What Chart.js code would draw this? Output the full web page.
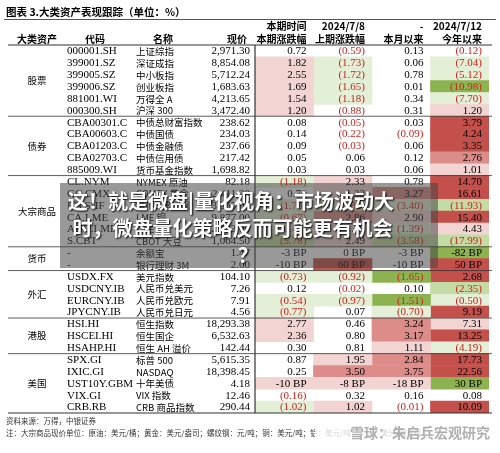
<!DOCTYPE html>
<html><head><meta charset="utf-8">
<script src="https://cdn.jsdelivr.net/npm/chart.js@4/dist/chart.umd.min.js"></script>
<style>
html,body{margin:0;padding:0;background:#fff;}
#wrap{position:relative;width:500px;height:453px;}
#banner{position:absolute;left:60px;top:183px;width:378px;height:85px;background:rgba(70,70,70,0.55);color:#fff;font:bold 20px "Noto Sans CJK SC";text-shadow:1px 1px 2px #000;box-sizing:border-box;padding:4px 0 0 8px;line-height:27px;}
</style></head><body>
<div id="wrap"><canvas id="c" width="500" height="453"></canvas>
<div id="banner">这！就是微盘|量化视角：市场波动大<br>&nbsp;时，微盘量化策略反而可能更有机会<br><span style="margin-left:170px">？</span></div>
</div>
<script>
const groups = [["股票",6],["债券",5],["大宗商品",6],["货币",2],["外汇",4],["港股",3],["美国",5]];
const codes = ["000001.SH","399001.SZ","399005.SZ","399006.SZ","881001.WI","000300.SH",
"CBA00301.C","CBA00603.C","CBA01203.C","CBA02703.C","885009.WI",
"CL.NYM","GC.CMX","RB.SHF","CA.LME","AHD.LME","S.CBT",
"-","-",
"USDX.FX","USDCNY.IB","EURCNY.IB","JPYCNY.IB",
"HSI.HI","HSCEI.HI","HSAHP.HI",
"SPX.GI","IXIC.GI","UST10Y.GBM","VIX.GI","CRB.RB"];
const names = ["上证综指","深证成指","中小板指","创业板指","万得全 A","沪深 300",
"中债总财富指数","中债国债","中债金融债","中债信用债","货币基金指数",
"NYMEX 原油","COMEX 黄金","SHFE 螺纹钢","LME 铜","LME 铝","CBOT 大豆",
"余额宝","银行理财 3M",
"美元指数","人民币兑美元","人民币兑欧元","人民币兑日元",
"恒生指数","恒生国企","恒生 AH 溢价",
"标普 500","NASDAQ","十年美债","VIX 指数","CRB 商品指数"];
const prices = ["2,971.30","8,854.08","5,712.24","1,683.63","4,213.65","3,472.40",
"238.62","234.03","237.66","217.42","1,698.82",
"82.18","2,411.20","3,565.00","9,877.00","2,493.00","1,064.50",
"1.47","2.00",
"104.10","7.26","7.91","4.56",
"18,293.38","6,532.63","142.44",
"5,615.35","18,398.45","4.18","12.46","290.44"];
const colThis = ["0.72","1.82","2.55","1.69","1.54","1.20","0.08","0.14","0.09","0.05","0.03",
"(1.18)","0.76","(1.76)","(0.67)","(0.42)","(5.78)","-3 BP","-10 BP",
"(0.73)","0.12","(0.54)","(0.77)","2.77","2.36","0.30","0.87","0.25","-10 BP","(0.16)","(1.02)"];
const colPrev = ["(0.59)","(1.73)","(1.72)","(1.65)","(1.18)","(0.88)","(0.05)","(0.22)","(0.03)","0.06","0.03",
"2.33","1.22","(0.85)","2.86","1.49","2.49","0 BP","60 BP",
"(0.92)","(0.02)","(0.97)","0.07","0.46","0.80","0.81","1.95","3.50","-8 BP","0.32","1.02"];
const colMonth = ["0.13","0.06","0.78","0.01","0.34","0.31","0.03","(0.09)","0.06","0.12","0.06",
"0.78","3.27","(3.40)","2.90","(1.39)","(3.58)","-3 BP","-10 BP",
"(1.65)","0.10","(1.51)","(0.70)","3.24","3.17","1.11","2.84","3.75","-18 BP","0.16","(0.01)"];
const colYear = ["(0.12)","(7.04)","(5.12)","(10.98)","(7.70)","1.20","3.79","4.24","3.35","2.76","1.01",
"14.70","16.61","(11.93)","15.40","4.43","(17.99)","-82 BP","50 BP",
"2.68","(2.35)","(0.50)","9.19","7.31","13.25","(4.19)","17.73","22.56","30 BP","0.08","10.09"];
const shadeThis  = ["0","p","p","p","p","p","0","0","0","0","0","g","0","g","g","g","G","0","0","g","0","g","g","p","p","0","0","0","p","0","g"];
const shadePrev  = ["0","g","g","g","g","0","0","0","0","0","0","p","p","g","r","p","p","0","R","g","0","g","0","0","0","0","p","r","p","0","p"];
const shadeMonth = ["0","0","0","0","0","0","0","0","0","0","0","0","r","g","p","g","G","0","0","V","0","V","g","r","r","p","r","r","p","0","0"];
const shadeYear  = ["0","g","g","V","g","p","R","R","R","r","p","R","R","G","R","p","G","V","R","R","G","g","R","p","R","g","R","R","V","0","R"];
const headers1 = ["本期时间","2024/7/8","-","2024/7/12"];
const headers2 = ["本期涨跌幅","上期涨跌幅","本月以来","今年以来"];

const palette = {"0":"rgba(0,0,0,0)",p:"#f2d5d3",r:"#dc8d8a",R:"#c4504c",g:"#e3efd6",G:"#c3dba4",V:"#8db351"};
const textCols = [colThis,colPrev,colMonth,colYear];
const shadeCols = [shadeThis,shadePrev,shadeMonth,shadeYear];
const rows = codes.map((c,i)=>i);

const tablePlugin = {
  id:'table',
  afterDraw(chart){
    const ctx = chart.ctx, ys = chart.scales.y, xs = chart.scales.x;
    const rowH = Math.abs(ys.getPixelForValue(1)-ys.getPixelForValue(0));
    const top = ys.getPixelForValue(0)-rowH/2, bot = ys.getPixelForValue(rows.length-1)+rowH/2;
    ctx.save();
    ctx.textBaseline='middle';
    const serif = '11px "Liberation Serif"', cjk = '9.5px "Noto Sans CJK SC"';
    ctx.fillStyle='#000'; ctx.font='bold 10.5px "Noto Sans CJK SC"'; ctx.textAlign='left';
    ctx.fillText('图表 3.大类资产表现跟踪（单位：%）',6,12);
    ctx.strokeStyle='#555'; ctx.lineWidth=1;
    ctx.beginPath();ctx.moveTo(4,19.5);ctx.lineTo(496,19.5);ctx.stroke();
    ctx.font='bold 10px "Noto Sans CJK SC"';
    ctx.textAlign='center';
    ctx.fillText('大类资产',37,39); ctx.fillText('代码',95,39); ctx.fillText('名称',163,39);
    ctx.textAlign='right'; ctx.fillText('现价',247,39);
    for(let k=0;k<4;k++){
      const xr = xs.getPixelForValue(k+1)-7;
      ctx.fillText(headers1[k],xr,26); ctx.fillText(headers2[k],xr,39);
    }
    ctx.lineWidth=1.2; ctx.strokeStyle='#333';
    ctx.beginPath();ctx.moveTo(8,top);ctx.lineTo(492,top);ctx.stroke();
    ctx.beginPath();ctx.moveTo(8,bot);ctx.lineTo(492,bot);ctx.stroke();
    ctx.beginPath();ctx.moveTo(xs.getPixelForValue(0),top);ctx.lineTo(xs.getPixelForValue(0),bot);ctx.stroke();
    let start=0;
    ctx.lineWidth=0.8;
    groups.forEach(([g,n],gi)=>{
      const y0=ys.getPixelForValue(start)-rowH/2, y1=ys.getPixelForValue(start+n-1)+rowH/2;
      ctx.font=cjk; ctx.textAlign='center'; ctx.fillStyle='#000';
      ctx.fillText(g,37,(y0+y1)/2);
      if(gi>0){ctx.beginPath();ctx.moveTo(8,y0);ctx.lineTo(492,y0);ctx.stroke();}
      start+=n;
    });
    rows.forEach(i=>{
      const y=ys.getPixelForValue(i)+0.5;
      ctx.fillStyle='#000';
      ctx.font=serif; ctx.textAlign='left'; ctx.fillText(codes[i],67,y);
      ctx.font=cjk; ctx.fillText(names[i],136,y);
      ctx.font=serif; ctx.textAlign='right'; ctx.fillText(prices[i],250,y);
      textCols.forEach((col,k)=>{
        const v=col[i];
        ctx.fillStyle = v.startsWith('(') ? '#d0211b' : '#000';
        ctx.fillText(v, xs.getPixelForValue(k+1)-7, y);
      });
    });
    ctx.font='7.5px "Noto Sans CJK SC"'; ctx.fillStyle='#333'; ctx.textAlign='left';
    ctx.fillText('资料来源：万得，中银证券',6,421);
    ctx.fillText('注：大宗商品现价单位：原油：美元/桶；黄金：美元/盎司；螺纹钢：元/吨；铜：美元/吨；铝：美元/吨；大豆：美分/蒲式耳',6,433);
    ctx.fillStyle='rgba(255,255,255,0.8)'; ctx.fillRect(315,424,180,17);
    ctx.font='bold 14px "Noto Sans CJK SC"'; ctx.fillStyle='rgba(150,150,150,0.75)'; ctx.textAlign='right';
    ctx.fillText('雪球：朱启兵宏观研究',490,433);
    ctx.restore();
  }
};

const datasets = shadeCols.map((sh,k)=>({
  label:headers2[k],
  data: rows.map(()=>[k,k+1]),
  backgroundColor: sh.map(s=>palette[s]),
  borderWidth:0, grouped:false, categoryPercentage:1, barPercentage:1
}));

new Chart(document.getElementById('c'),{
  type:'bar',
  data:{labels:codes.map((c,i)=>String(i)),datasets},
  plugins:[tablePlugin],
  options:{
    indexAxis:'y', responsive:false, animation:false,
    layout:{padding:{left:255,right:11,top:45,bottom:40}},
    plugins:{legend:{display:false},tooltip:{enabled:false}},
    scales:{
      x:{type:'linear',min:0,max:4,display:false},
      y:{display:false,offset:true}
    }
  }
});
</script></body></html>
